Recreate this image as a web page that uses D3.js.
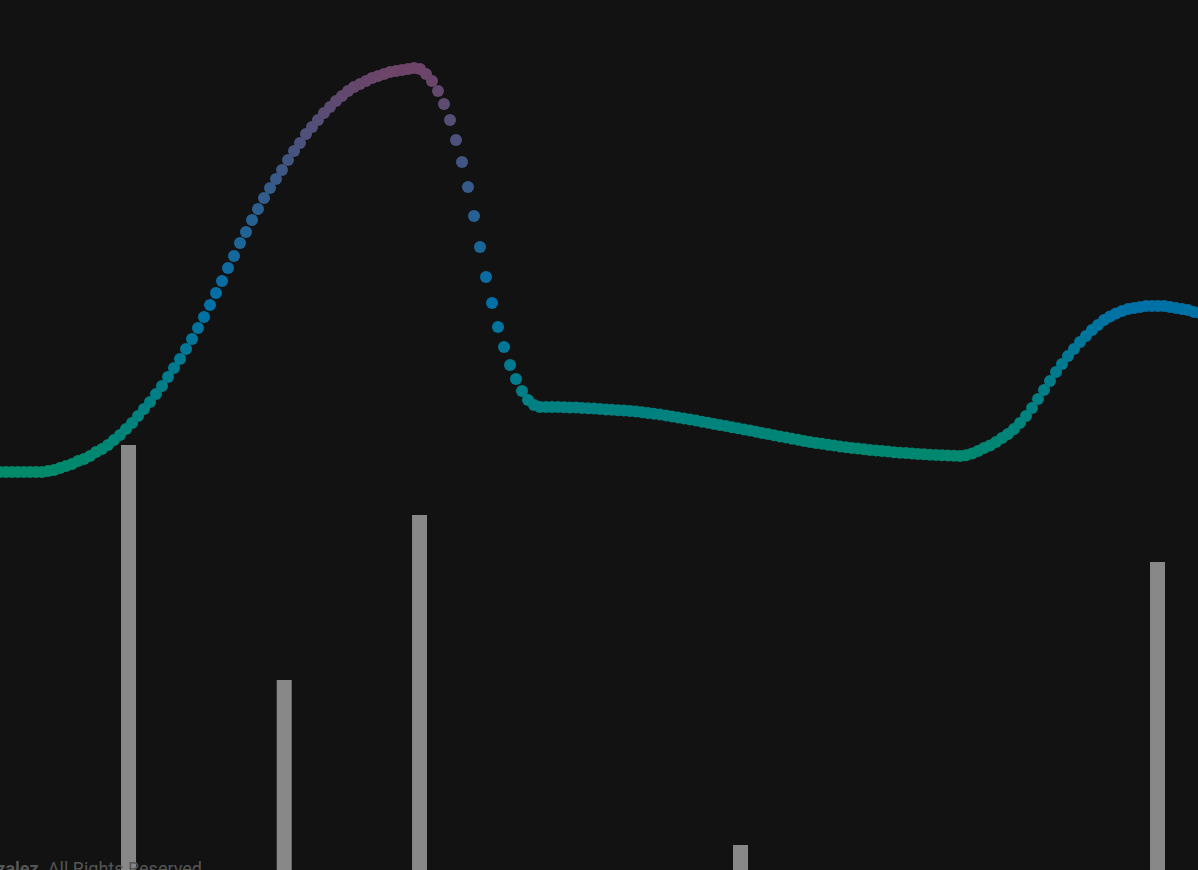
<!DOCTYPE html>
<html>
<head>
<meta charset="utf-8">
<script src="https://cdn.jsdelivr.net/npm/d3@7"></script>
<style>
  html, body { margin: 0; padding: 0; background: #121212; overflow: hidden; }
  svg { display: block; }
</style>
</head>
<body>
<div id="chart"></div>
<script>
// Series values, one per time step (step index 0..200)
const values = [
  28, 28, 28, 28, 28, 28, 28, 28, 29, 30,
  32, 34, 36, 39, 41, 44, 48, 51, 55, 60,
  65, 71, 77, 84, 91, 98, 106, 114, 123, 132,
  141, 151, 161, 172, 183, 195, 207, 219, 232, 244,
  257, 268, 280, 291, 302, 312, 321, 330, 340, 349,
  357, 366, 373, 380, 387, 393, 399, 404, 409, 413,
  416, 419, 422, 424, 426, 428, 429, 430, 431, 432,
  431, 426, 419, 409, 396, 380, 360, 338, 313, 284,
  253, 223, 197, 173, 153, 135, 121, 109, 100, 95,
  93, 93, 93, 92.9, 92.8, 92.6, 92.4, 92.1, 91.8, 91.4,
  91.0, 90.6, 90.2, 89.8, 89.4, 89.0, 88.4, 87.7, 87.0, 86.3,
  85.5, 84.5, 83.5, 82.5, 81.5, 80.5, 79.4, 78.3, 77.2, 76.1,
  75.0, 73.9, 72.8, 71.7, 70.6, 69.5, 68.3, 67.1, 65.9, 64.7,
  63.5, 62.4, 61.3, 60.2, 59.1, 58.0, 57.1, 56.2, 55.3, 54.4,
  53.5, 52.8, 52.1, 51.4, 50.7, 50.0, 49.5, 48.9, 48.4, 47.8,
  47.3, 46.9, 46.5, 46.1, 45.7, 45.3, 45.0, 44.7, 44.4, 44.2,
  44.0, 44.8, 46.5, 49, 52, 54.5, 58, 62, 66, 71,
  77, 84, 92, 101, 110, 119, 128, 136, 144, 151,
  158, 164, 170, 175, 180, 183.5, 186.5, 189, 191, 192,
  193, 194, 194, 194, 194, 193, 192, 191, 190, 188,
  187
];

// Event bars: position on the time axis and their values
const barSteps  = [21.42, 47.37, 69.92, 123.42, 192.92];
const barValues = [435, 200, 365, 35, 318];

// Colour stops (value -> colour)
const colorStops  = [28, 200, 432];
const colorRange  = ["#008a6a", "#0070a8", "#6e4468"];

const footerPrefix = "© 2024 ";
const footerName = "Gonzalez";
const footerSuffix = ". All Rights Reserved";

const W = 1198, H = 870;

const svg = d3.select("#chart").append("svg")
  .attr("width", W).attr("height", H)
  .style("background", "#121212");

const x = d3.scaleLinear().domain([0, 200]).range([0, 1200]);
const y = d3.scaleLinear().domain([0, 500]).range([500, 0]);
const yBar = d3.scaleLinear().domain([0, 500]).range([880, 380]);
const color = d3.scaleLinear().domain(colorStops).range(colorRange)
  .interpolate(d3.interpolateRgb).clamp(true);

// Bars
svg.append("g")
  .selectAll("rect")
  .data(barSteps.map((s, i) => ({ s, v: barValues[i] })))
  .join("rect")
  .attr("x", d => x(d.s) - 7.5)
  .attr("width", 15)
  .attr("y", d => yBar(d.v))
  .attr("height", d => yBar(0) - yBar(d.v))
  .attr("fill", "#888888");

// Dots
svg.append("g")
  .selectAll("circle")
  .data(values)
  .join("circle")
  .attr("cx", (d, i) => x(i))
  .attr("cy", d => y(d))
  .attr("r", 6)
  .attr("fill", d => color(d));

// Footer
const ft = svg.append("text")
  .attr("x", 202)
  .attr("y", 875)
  .attr("text-anchor", "end")
  .attr("font-family", "Roboto, sans-serif")
  .attr("font-size", 18)
  .attr("fill", "#555555");
ft.append("tspan").text(footerPrefix);
ft.append("tspan").attr("font-weight", 700).text(footerName);
ft.append("tspan").text(footerSuffix);
</script>
</body>
</html>
